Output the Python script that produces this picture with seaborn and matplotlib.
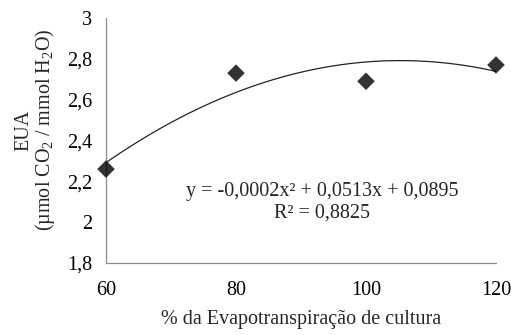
import matplotlib
matplotlib.use("Agg")
import matplotlib.pyplot as plt
import matplotlib.ticker as mticker
import seaborn as sns
import pandas as pd

# Water use efficiency vs. percentage of crop evapotranspiration
etc_pct = [60, 80, 100, 120]
eua = [2.26, 2.73, 2.69, 2.77]

x_ticks = [60, 80, 100, 120]
y_ticks = [1.8, 2.0, 2.2, 2.4, 2.6, 2.8, 3.0]

equation = "y = -0,0002x² + 0,0513x + 0,0895"
r_squared = "R² = 0,8825"

sns.set_style("white")
plt.rcParams["font.family"] = ["Liberation Serif", "DejaVu Serif"]
plt.rcParams["mathtext.fontset"] = "custom"
plt.rcParams["mathtext.rm"] = "Liberation Serif"
plt.rcParams["mathtext.it"] = "Liberation Serif:italic"

df = pd.DataFrame({"etc": etc_pct, "eua": eua})

fig = plt.figure(figsize=(5.11, 3.35), dpi=100)
ax = fig.add_axes([0.2074, 0.2149, 0.7632, 0.7314])

sns.regplot(data=df, x="etc", y="eua", order=2, ci=None, ax=ax,
            marker="D", color="black",
            scatter_kws={"s": 80, "edgecolors": "none", "zorder": 3, "clip_on": False},
            line_kws={"color": "#222222", "linewidth": 0.9})

ax.set_xlim(60, 120)
ax.set_ylim(1.8, 3.0)
ax.set_xticks(x_ticks)
ax.set_yticks(y_ticks)
ax.yaxis.set_major_formatter(mticker.FuncFormatter(lambda v, p: f"{v:g}".replace(".", ",")))

for side in ["top", "right"]:
    ax.spines[side].set_visible(False)
for side in ["left", "bottom"]:
    ax.spines[side].set_color("#8c8c8c")
    ax.spines[side].set_linewidth(0.9)
ax.tick_params(axis="both", which="major", direction="out", length=5,
               width=0.9, color="#8c8c8c", labelsize=14.5, labelcolor="black", pad=5)
ax.tick_params(axis="x", pad=8)

ax.set_xlabel("% da Evapotranspiração de cultura", fontsize=14.5, labelpad=7)
ax.set_ylabel("EUA\n(µmol CO$_2$ / mmol H$_2$O)", fontsize=14.5,
              linespacing=1.0)
ax.yaxis.set_label_coords(-0.125, 0.543)

ax.text(93.2, 2.148, equation, fontsize=14.5, ha="center", va="center")
ax.text(93.2, 2.045, r_squared, fontsize=14.5, ha="center", va="center")

fig.savefig("out.png", dpi=100)
